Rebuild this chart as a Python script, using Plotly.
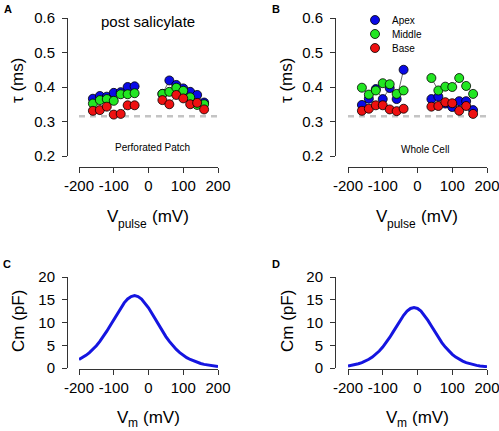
import plotly.graph_objects as go

W, H = 499, 431

# ---------------- data ----------------
v_neg = [-160, -140, -120, -100, -80, -60, -40]
v_pos = [40, 60, 80, 100, 120, 140, 160]

# Panel A (post salicylate, perforated patch)
a_apex_neg = [0.366, 0.374, 0.372, 0.383, 0.385, 0.400, 0.402]
a_apex_pos = [0.380, 0.419, 0.406, 0.396, 0.386, 0.377, 0.355]
a_mid_neg = [0.352, 0.362, 0.365, 0.360, 0.379, 0.379, 0.382]
a_mid_pos = [0.380, 0.386, 0.398, 0.389, 0.370, 0.348, 0.350]
a_base_neg = [0.331, 0.333, 0.343, 0.320, 0.322, 0.347, 0.347]
a_base_pos = [0.362, 0.350, 0.377, 0.367, 0.350, 0.354, 0.335]

# Panel B (whole cell)
b_apex_neg = [0.348, 0.366, 0.394, 0.365, 0.397, 0.365, 0.450]
b_apex_pos = [0.365, 0.372, 0.352, 0.342, 0.359, 0.359, 0.333]
b_mid_neg = [0.398, 0.378, 0.390, 0.411, 0.408, 0.380, 0.390]
b_mid_pos = [0.426, 0.390, 0.401, 0.400, 0.426, 0.403, 0.380]
b_base_neg = [0.331, 0.337, 0.347, 0.347, 0.335, 0.330, 0.337]
b_base_pos = [0.343, 0.345, 0.356, 0.353, 0.331, 0.345, 0.322]

tau_floor = 0.315

# Panels C and D (capacitance vs voltage)
vm = [-200, -190, -180, -170, -160, -150, -140, -130, -120, -110, -100,
      -90, -80, -70, -60, -50, -40, -30, -20, -10, 0, 10, 20, 30, 40, 50,
      60, 70, 80, 90, 100, 110, 120, 130, 140, 150, 160, 170, 180, 190, 200]
cm_c = [1.87, 2.28, 2.78, 3.38, 4.08, 4.90, 5.84, 6.91, 8.09, 9.36, 10.68,
        11.99, 13.24, 14.32, 15.17, 15.71, 15.90, 15.71, 15.17, 14.32, 13.24,
        11.99, 10.68, 9.36, 8.09, 6.91, 5.84, 4.90, 4.08, 3.38, 2.78, 2.28,
        1.87, 1.52, 1.25, 1.00, 0.80, 0.65, 0.53, 0.42, 0.34]
cm_d = [0.45, 0.58, 0.74, 0.94, 1.19, 1.51, 1.91, 2.40, 3.01, 3.73, 4.59,
        5.59, 6.71, 7.93, 9.21, 10.46, 11.59, 12.50, 13.09, 13.30, 13.09,
        12.50, 11.59, 10.46, 9.21, 7.93, 6.71, 5.59, 4.59, 3.73, 3.01, 2.40,
        1.91, 1.51, 1.19, 0.94, 0.74, 0.58, 0.45, 0.35, 0.28]

x_ticks = [-200, -100, 0, 100, 200]
x_ticklabels = ["-200", "-100", "0", "100", "200"]
tau_ticks = [0.2, 0.3, 0.4, 0.5, 0.6]
tau_ticklabels = ["0.2", "0.3", "0.4", "0.5", "0.6"]
cm_ticks = [0, 5, 10, 15, 20]
cm_ticklabels = ["0", "5", "10", "15", "20"]

series_names = ["Apex", "Middle", "Base"]
series_colors = ["#0a0ae6", "#22e622", "#ee1111"]

FONT = "Liberation Sans, Arial, sans-serif"

# ---------------- figure ----------------
fig = go.Figure()


def px(x):
    return x / W


def py(y):
    return 1 - y / H


def add_series(xa, ya, neg, pos, color, name):
    xs = v_neg + [None] + v_pos
    ys = neg + [None] + pos
    fig.add_trace(go.Scatter(
        x=xs, y=ys, mode="lines+markers", name=name, showlegend=False,
        xaxis=xa, yaxis=ya, cliponaxis=False, connectgaps=False,
        hoverinfo="skip",
        line=dict(color="#444444", width=0.8),
        marker=dict(size=9, color=color, line=dict(color="black", width=0.8)),
    ))


panelA = [(a_apex_neg, a_apex_pos), (a_mid_neg, a_mid_pos), (a_base_neg, a_base_pos)]
panelB = [(b_apex_neg, b_apex_pos), (b_mid_neg, b_mid_pos), (b_base_neg, b_base_pos)]
for (neg, pos), c, n in zip(panelA, series_colors, series_names):
    add_series("x", "y", neg, pos, c, n)
for (neg, pos), c, n in zip(panelB, series_colors, series_names):
    add_series("x2", "y2", neg, pos, c, n)

fig.add_trace(go.Scatter(x=vm, y=cm_c, mode="lines", xaxis="x3", yaxis="y3",
                         line=dict(color="#1515e0", width=3), showlegend=False,
                         cliponaxis=False, hoverinfo="skip"))
fig.add_trace(go.Scatter(x=vm, y=cm_d, mode="lines", xaxis="x4", yaxis="y4",
                         line=dict(color="#1515e0", width=3), showlegend=False,
                         cliponaxis=False, hoverinfo="skip"))

# dashed reference lines
for xr, yr in (("x", "y"), ("x2", "y2")):
    fig.add_shape(type="line", xref=xr, yref=yr, x0=-200, x1=200,
                  y0=tau_floor, y1=tau_floor, layer="below",
                  line=dict(color="#c4c4c4", width=2.5, dash="6px,5px"))

axis_common = dict(showgrid=False, zeroline=False, showline=True,
                   automargin=False, ticklabeloverflow="allow",
                   linecolor="#333333", linewidth=1, ticks="outside",
                   ticklen=5, tickcolor="#333333", tickwidth=1,
                   tickfont=dict(family=FONT, size=15, color="black"))

left_cols = [(79, 218, 67), (348, 487, 335)]
top_rows = [(18, 156, 166.5), (277, 368, 369)]

layout = dict(template="none", width=W, height=H,
              margin=dict(l=0, r=0, t=0, b=0, pad=0),
              paper_bgcolor="white", plot_bgcolor="white", showlegend=False,
              hovermode=False,
              font=dict(family=FONT, color="black"))

idx = 0
for r, (yt, yb, xline) in enumerate(top_rows):
    for c, (xl, xr_, yline) in enumerate(left_cols):
        idx += 1
        sfx = "" if idx == 1 else str(idx)
        layout["xaxis" + sfx] = dict(
            axis_common, domain=[px(xl), px(xr_)], range=[-200, 200],
            anchor="free", position=py(xline), tickvals=x_ticks,
            ticktext=x_ticklabels, ticklabelstandoff=0)
        if r == 0:
            yv, yl, yrng = tau_ticks, tau_ticklabels, [0.2, 0.6]
        else:
            yv, yl, yrng = cm_ticks, cm_ticklabels, [0, 20]
        layout["yaxis" + sfx] = dict(
            axis_common, domain=[py(yb), py(yt)], range=yrng,
            anchor="free", position=px(yline), tickvals=yv, ticktext=yl,
            ticklabelstandoff=4)

fig.update_layout(**layout)

ann = []


def text(x, y, s, size, bold=False, angle=0, xanchor="center"):
    ann.append(dict(x=px(x), y=py(y), xref="paper", yref="paper", text=s,
                    showarrow=False, textangle=angle, xanchor=xanchor,
                    yanchor="middle", borderpad=0, borderwidth=0,
                    font=dict(family=FONT, size=size, color="black",
                              weight="bold" if bold else "normal")))


# panel letters
text(7.5, 9, "A", 11, bold=True)
text(276, 9, "B", 11, bold=True)
text(6.5, 264, "C", 11, bold=True)
text(276, 264, "D", 11, bold=True)

# texts in panels
text(148, 22, "post salicylate", 15)
text(152, 147, "Perforated Patch", 10)
text(425, 150, "Whole Cell", 10)


# axis titles built from a main part and a subscript part
def sub_title(x_start, y_mid, sub, sub_w, sub_dy):
    text(x_start, y_mid, "V", 17, xanchor="left")
    text(x_start + 11.3, y_mid + sub_dy, sub, 12, xanchor="left")
    text(x_start + 11.3 + sub_w + 4.7, y_mid, "(mV)", 17, xanchor="left")


for dx in (0, 269):
    sub_title(107 + dx, 216, "pulse", 28.7, 8)
    sub_title(117 + dx, 417, "m", 10.0, 6)
for xc in (18, 287):
    text(xc, 81, "τ (ms)", 17, angle=-90)
    text(xc, 321, "Cm (pF)", 17, angle=-90)

# legend in panel B
leg_y = [20, 34, 48]
for name, col, yy in zip(series_names, series_colors, leg_y):
    fig.add_shape(type="circle", xref="paper", yref="paper",
                  xsizemode="pixel", ysizemode="pixel",
                  xanchor=px(375), yanchor=py(yy), x0=-4.5, x1=4.5, y0=-4.5, y1=4.5,
                  fillcolor=col, line=dict(color="black", width=0.8))
    text(392, yy, name, 10, xanchor="left")

fig.update_layout(annotations=ann)

# remove the browser's default 8px body margin so the figure fills the window
fig.write_html("out.html",
               config={"displayModeBar": False, "staticPlot": True},
               post_script="document.body.style.margin='0';"
                           "document.documentElement.style.overflow='hidden';")
